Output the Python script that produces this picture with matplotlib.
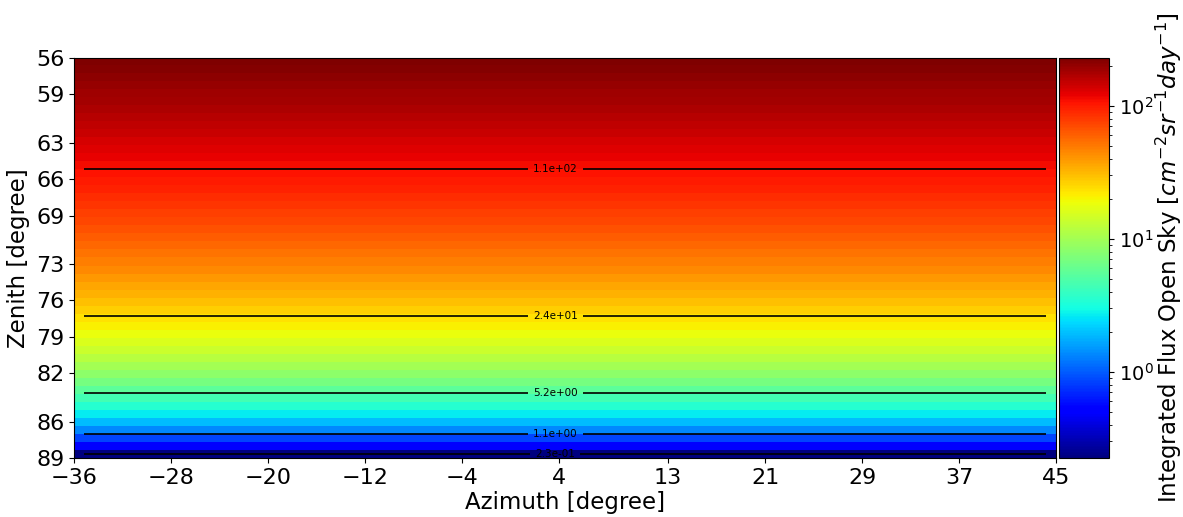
import numpy as np
import matplotlib
matplotlib.use('Agg')
import matplotlib.pyplot as plt
from matplotlib.colors import LogNorm

# Sky window covered by the map (degrees)
azimuth_range = (-36, 45)
zenith_range = (56, 89)
n_azimuth = 50

# Integrated open-sky flux per zenith row, top (56 deg) to horizon (89 deg)
flux_rows = [228, 218, 208, 198, 188, 179, 170, 161, 152, 144,
             135, 128, 120, 112, 106, 99.5, 93.5, 87.8, 82.1, 76.6,
             71.3, 66.2, 61.3, 56.7, 52.2, 48.0, 43.9, 39.9, 36.2, 32.7,
             29.4, 26.3, 23.4, 20.8, 18.3, 16.0, 13.8, 11.9, 10.1, 8.41,
             6.92, 5.60, 4.49, 3.52, 2.68, 1.95, 1.34, 0.867, 0.501, 0.225]

contour_levels = [0.23, 1.1, 5.2, 24, 110]

azimuth_ticks = [-36, -28, -20, -12, -4, 4, 13, 21, 29, 37, 45]
zenith_ticks = [56, 59, 63, 66, 69, 73, 76, 79, 82, 86, 89]

flux = np.tile(np.array(flux_rows)[:, None], (1, n_azimuth))
n_zenith = flux.shape[0]

# cell centres for the contour lines
daz = (azimuth_range[1] - azimuth_range[0]) / n_azimuth
dze = (zenith_range[1] - zenith_range[0]) / n_zenith
az_c = np.linspace(azimuth_range[0] + daz / 2, azimuth_range[1] - daz / 2, n_azimuth)
ze_c = np.linspace(zenith_range[0] + dze / 2, zenith_range[1] - dze / 2, n_zenith)
AZ, ZE = np.meshgrid(az_c, ze_c)

fig = plt.figure(figsize=(11.83, 5.17), dpi=100)
ax = fig.add_axes([0.0626, 0.1141, 0.8301, 0.7737])
cax = fig.add_axes([0.8952, 0.1141, 0.0423, 0.7737])

im = ax.imshow(flux, cmap='jet', norm=LogNorm(),
               extent=[azimuth_range[0], azimuth_range[1], zenith_range[1], zenith_range[0]],
               interpolation='nearest')
cs = ax.contour(AZ, ZE, flux, levels=contour_levels, colors='k', linewidths=1.2)

# label each line at the grid column just left of the middle
mid_az = az_c[n_azimuth // 2 - 1]
log_rows = np.log10(flux_rows)[::-1]
label_pos = [(mid_az, np.interp(np.log10(lv), log_rows, ze_c[::-1]))
             for lv in contour_levels]
ax.clabel(cs, inline=True, fmt='%.1e', fontsize=7.5, manual=label_pos)

ax.set_xticks(azimuth_ticks)
ax.set_yticks(zenith_ticks)
ax.tick_params(labelsize=16)
ax.set_xlabel('Azimuth [degree]', fontsize=16.5, labelpad=2)
ax.set_ylabel('Zenith [degree]', fontsize=16.5)

cb = fig.colorbar(im, cax=cax)
cb.ax.tick_params(labelsize=14)
cb.set_label(r'Integrated Flux Open Sky [$cm^{-2}sr^{-1}day^{-1}$]',
             fontsize=16.5, labelpad=0)

fig.savefig('out.png', dpi=100)
